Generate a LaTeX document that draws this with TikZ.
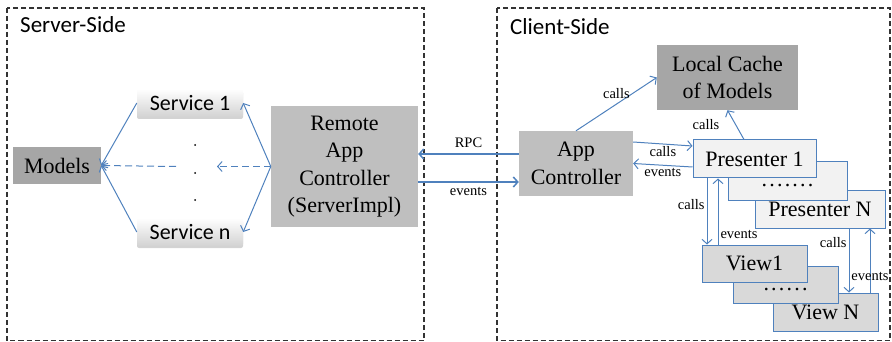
\documentclass[tikz,border=0pt]{standalone}
\usepackage{fontspec}
\setmainfont{Liberation Serif}
\newfontfamily\calibri{Carlito}
\usepackage{tikz}
\usetikzlibrary{arrows.meta, shadows, positioning}

\definecolor{linkblue}{HTML}{4F81BD}
\definecolor{darkbox}{HTML}{A6A6A6}
\definecolor{midbox}{HTML}{BFBFBF}
\definecolor{presfill}{HTML}{F2F2F2}
\definecolor{viewfill}{HTML}{D9D9D9}

% a row of spaced dots
\newcommand{\dotrow}[1]{\strut\foreach \i in {1,...,#1}{.\ifnum\i<#1\kern2.2pt\fi}}

\tikzset{
  big/.style={font=\fontsize{22}{27.5}\selectfont, inner sep=0pt, align=center},
  greybox/.style={big, fill=#1},
  svc/.style={big, font=\calibri\fontsize{22}{27}\selectfont, rounded corners=2pt,
    top color=white, bottom color=gray!35,
    drop shadow={opacity=0.35, shadow xshift=0pt, shadow yshift=-2pt}},
  pres/.style={big, draw=linkblue, line width=1pt, fill=presfill},
  view/.style={big, draw=linkblue, line width=1pt, fill=viewfill},
  lbl/.style={font=\fontsize{14.5}{17}\selectfont, inner sep=2pt},
  link/.style={->, draw=linkblue, line width=1pt},
  frame/.style={draw=black!80, line width=1.1pt, dash pattern=on 5pt off 3pt},
}

\begin{document}
\begin{tikzpicture}[x=1pt,y=-1pt,>={Straight Barb[length=4.5pt,width=10pt]}]
\useasboundingbox (0,0) rectangle (892,342);
% The two sides
\draw[frame] (7,8) rectangle (424,340.5);
\draw[frame] (497,8) rectangle (890,340.5);
\node[anchor=base west, font=\calibri\fontsize{23}{27}\selectfont, inner sep=0pt] (srvtitle) at (20,33) {Server-Side};
\node[anchor=base west, font=\calibri\fontsize{23}{27}\selectfont, inner sep=0pt] (clttitle) at (510,35) {Client-Side};

% Server side
\node[greybox=darkbox, minimum width=88, minimum height=37] (models) at (57,165.5) {Models};
\node[svc, minimum width=106, minimum height=28] (serviceA) at (190,103) {Service 1};
\node[svc, minimum width=106, minimum height=28] (serviceN) at (190,232) {Service n};
\node[greybox=midbox, minimum width=147, minimum height=121] (remote) at (344.5,166.5) {Remote\\App\\Controller\\(ServerImpl)};
\foreach \y in {145,173,200}
  \fill (195,\y) circle (1);
\coordinate (gapR) at (217,166.5);
\coordinate (gapL) at (176,166.5);

\draw[link] (remote.west) -- (serviceA.east);
\draw[link] (remote.west) -- (serviceN.east);
\draw[link] (serviceA.west) -- (models.east);
\draw[link] (serviceN.west) -- (models.east);
\draw[link, dash pattern=on 7pt off 4pt] (remote.west) -- (gapR);
\draw[link, dash pattern=on 7pt off 4pt] (gapL) -- (models.east);

% Client side
\node[greybox=midbox, minimum width=114, minimum height=65] (appctrl) at (576,163.5) {App\\Controller};
\node[greybox=darkbox, minimum width=141, minimum height=65] (cache) at (727.5,77.5) {Local Cache\\of Models};

\node[pres, minimum width=130, minimum height=37] (presN) at (820,209.5) {Presenter N};
\node[pres, minimum width=119, minimum height=38] (presDots) at (787.5,181) {\dotrow{7}};
\node[pres, minimum width=123, minimum height=38] (presA) at (754.5,159) {Presenter 1};

\node[view, minimum width=105, minimum height=38] (viewN) at (825.5,312) {View N};
\node[view, minimum width=105, minimum height=37] (viewDots) at (785.5,284.5) {\dotrow{6}};
\node[view, minimum width=105, minimum height=37] (viewA) at (754.5,263.5) {View1};

% RPC between the sides
\coordinate (rpcy) at (0,154);
\coordinate (evty) at (0,182);
\draw[link, line width=1.5pt] (appctrl.west |- rpcy) -- (remote.east |- rpcy) node[lbl, midway, above=4pt] {RPC};
\draw[link, line width=1.5pt] (remote.east |- evty) -- (appctrl.west |- evty) node[lbl, midway, below=3pt] {events};

% calls and events
\draw[link] (appctrl.north) -- (cache.west) node[lbl, midway, above=3pt] {calls};
\draw[link] ([xshift=-10.5pt]presA.north) -- (cache.south) node[lbl, midway, left=14pt] {calls};
\draw[link] ([yshift=21.5pt]appctrl.east) -- ([yshift=13pt]presA.west) node[lbl, midway, below] {calls};
\draw[link] ([yshift=-8pt]presA.west) -- (appctrl.east) node[lbl, midway, below=1pt] {events};

\draw[link] ([xshift=-47.5pt]presA.south) -- ([xshift=-47.5pt]viewA.north) node[lbl, pos=0.4, left] {calls};
\draw[link] ([xshift=-36.5pt]viewA.north) -- ([xshift=-36.5pt]presA.south) node[lbl, pos=0.15, right] {events};

\coordinate (callN) at ([xshift=29pt]presN.south);
\coordinate (evtN) at ([xshift=44.5pt]viewN.north);
\draw[link] (callN) -- (callN |- viewN.north) node[lbl, pos=0.22, left] {calls};
\draw[link] (evtN) -- (evtN |- presN.south) node[lbl, pos=0.25] {events};
\end{tikzpicture}
\end{document}
